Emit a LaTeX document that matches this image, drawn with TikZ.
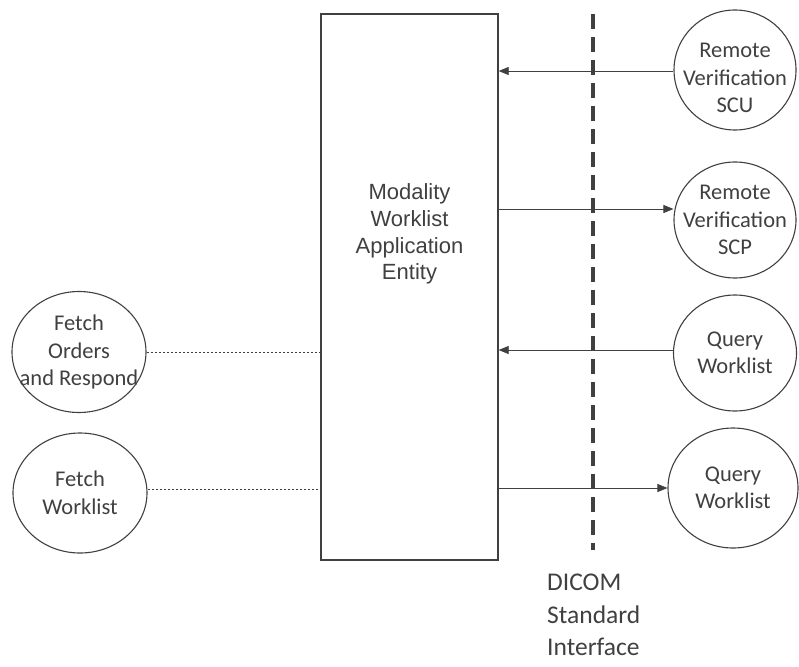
\documentclass[tikz,border=0pt]{standalone}
\usepackage{fontspec}
\setmainfont{Carlito}
\newfontfamily\arialfont{Liberation Sans}
\usetikzlibrary{arrows.meta,shapes.geometric}
\definecolor{lc}{HTML}{404040}
\definecolor{tc}{HTML}{404040}
\tikzset{
  ell/.style={ellipse, draw=lc, line width=1.1pt, inner sep=0pt},
  elltext/.style={align=center, text=tc, inner sep=0pt, font=\fontsize{22.5}{27.5}\selectfont},
  arr/.style={draw=lc, line width=0.8pt, -{Triangle[length=10pt,width=8pt]}},
  dotline/.style={draw=lc, line width=0.7pt, dash pattern=on 2.5pt off 1.5pt},
}
\begin{document}
\begin{tikzpicture}[x=1pt,y=-1pt]
\useasboundingbox (0,0) rectangle (799,666);
\node[draw=lc, line width=1.3pt, minimum width=177pt, minimum height=546pt, inner sep=0pt] (box) at (409.5,287) {};
\node[text=tc, align=center, font=\arialfont\fontsize{22}{26.7}\selectfont] (boxt) at (409.5,234) {Modality\\Worklist\\Application\\Entity};
\coordinate (dtop) at (593,14);
\coordinate (dbot) at (593,550);
\draw[lc, line width=3.6pt, dash pattern=on 15pt off 8pt] (dtop) -- (dbot);
\node[ell, minimum width=122pt, minimum height=120pt] (scu) at (735,70) {};
\node[elltext] (scut) at ([yshift=-8pt]scu.center) {Remote\\Verification\\SCU};
\node[ell, minimum width=122pt, minimum height=116pt] (scp) at (735,220) {};
\node[elltext] (scpt) at (scp.center) {Remote\\Verification\\SCP};
\node[ell, minimum width=123pt, minimum height=116pt] (q1) at (735,353) {};
\node[elltext] (q1t) at (q1.center) {Query\\Worklist};
\node[ell, minimum width=130pt, minimum height=120pt] (q2) at (733,488) {};
\node[elltext] (q2t) at (q2.center) {Query\\Worklist};
\node[ell, minimum width=134pt, minimum height=121pt] (fo) at (79,352) {};
\node[elltext] (fot) at (fo.center) {Fetch\\Orders\\and Respond};
\node[ell, minimum width=134pt, minimum height=120pt] (fw) at (80,493) {};
\node[elltext] (fwt) at (fw.center) {Fetch\\Worklist};
\node[text=tc, align=left, anchor=north west, inner sep=0pt, font=\fontsize{25.5}{32.5}\selectfont] (dicom) at (547,574) {DICOM\\Standard\\Interface};
\coordinate (a1) at (box.east |- 0,71);
\draw[arr] (scu.west |- a1) -- (a1);
\coordinate (a2) at (box.east |- 0,209);
\draw[arr] (a2) -- (scp.west |- a2);
\coordinate (a3) at (box.east |- 0,350);
\draw[arr] (q1.west |- a3) -- (a3);
\draw[arr] (box.east |- q2.west) -- (q2.west);
\draw[dotline] (fo.east) -- (box.west |- fo.east);
\coordinate (d2) at (box.west |- 0,489);
\draw[dotline] (fw.east |- d2) -- (d2);
\end{tikzpicture}
\end{document}
